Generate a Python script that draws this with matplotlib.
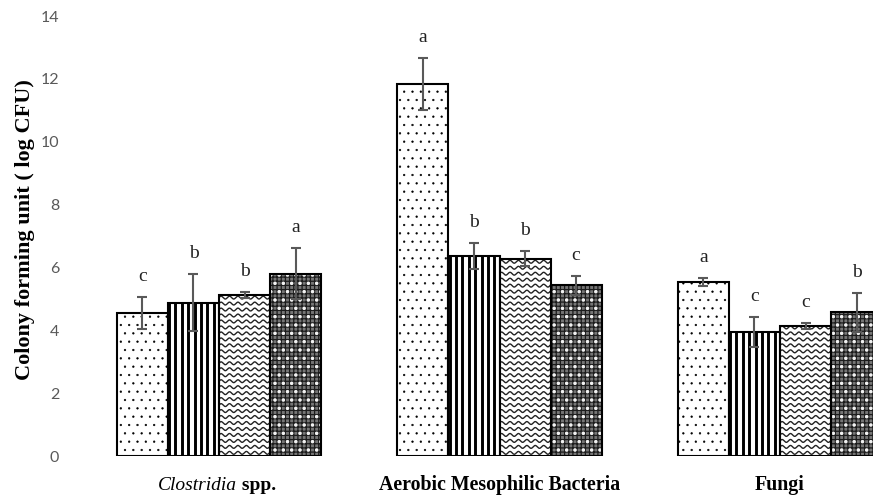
import numpy as np
import matplotlib
matplotlib.use("Agg")
import matplotlib.pyplot as plt

# data
categories = ["Clostridia", "Aerobic Mesophilic Bacteria", "Fungi"]
treat1 = [4.55, 11.83, 5.53]
treat2 = [4.88, 6.36, 3.94]
treat3 = [5.13, 6.27, 4.13]
treat4 = [5.80, 5.43, 4.57]
err1 = [0.50, 0.82, 0.13]
err2 = [0.90, 0.41, 0.47]
err3 = [0.10, 0.24, 0.09]
err4 = [0.82, 0.31, 0.63]
letters1 = ["c", "a", "a"]
letters2 = ["b", "b", "c"]
letters3 = ["b", "b", "c"]
letters4 = ["a", "c", "b"]
yticks = [0, 2, 4, 6, 8, 10, 12, 14]

serif = "Liberation Serif"

fig = plt.figure(figsize=(8.73, 4.99), dpi=100)
# axis runs past the right edge of the figure, as in the original
ax = fig.add_axes([78.75 / 873, 43 / 499, 841.5 / 873, 440 / 499])

x = np.arange(len(categories))
w = 0.182
series = [(treat1, err1, letters1), (treat2, err2, letters2),
          (treat3, err3, letters3), (treat4, err4, letters4)]

for i, (vals, errs, labs) in enumerate(series):
    pos = x + (i - 1.5) * w
    if i == 0:
        with plt.rc_context({"hatch.linewidth": 0.4}):
            bars = ax.bar(pos, vals, w, color="white", edgecolor="black",
                          hatch="..", linewidth=0, zorder=2)
    elif i == 1:
        bars = ax.bar(pos, vals, w, color="white", linewidth=0, zorder=2)
        # thick vertical stripes
        for b in bars:
            xs = b.get_x() + np.arange(0.004, b.get_width(), 0.0228)
            lc = ax.vlines(xs, 0, b.get_height(), color="black", linewidth=2.1,
                           zorder=3)
            lc.set_clip_path(b)
    elif i == 2:
        bars = ax.bar(pos, vals, w, color="white", linewidth=0, zorder=2)
        # wavy lines
        for b in bars:
            xx = np.linspace(b.get_x(), b.get_x() + b.get_width(), 200)
            for yy in np.arange(0.1, b.get_height() + 0.2, 0.19):
                ln, = ax.plot(xx, yy + 0.045 * np.sin(2 * np.pi * (xx - b.get_x()) / 0.03),
                              color="#222222", linewidth=1.0, zorder=3)
                ln.set_clip_path(b)
    else:
        with plt.rc_context({"hatch.linewidth": 0.9}):
            bars = ax.bar(pos, vals, w, color="#767676", edgecolor="#1c1c1c",
                          hatch="++++", linewidth=0, zorder=2)
        with plt.rc_context({"hatch.linewidth": 1.3}):
            ax.bar(pos, vals, w, color="none", edgecolor="#f2f2f2",
                   hatch="..", linewidth=0, zorder=3)
    # outline
    ax.bar(pos, vals, w, color="none", edgecolor="black", linewidth=1.5, zorder=4)
    ax.errorbar(pos, vals, yerr=errs, fmt="none", ecolor="#595959",
                elinewidth=1.5, capsize=3.5, capthick=1.5, zorder=5)
    for p, v, e, lab in zip(pos, vals, errs, labs):
        ax.text(p, v + e + 0.65, lab, ha="center", va="center",
                fontsize=14, family=serif, color="#222222")

ax.set_xlim(-0.5, 2.5)
ax.set_ylim(0, 14)
ax.set_yticks(yticks)
ax.tick_params(axis="y", length=0, pad=14, labelcolor="#595959", labelsize=11.5)
for t in ax.get_yticklabels():
    t.set_family("Lato")
ax.set_xticks([])
for s in ax.spines.values():
    s.set_visible(False)

# category labels
ax.annotate("Clostridia", xy=(x[0], 0), xycoords=("data", "axes fraction"),
            xytext=(13, -21), textcoords="offset points", ha="right", va="center",
            fontsize=14, family=serif, style="italic")
ax.annotate(" spp.", xy=(x[0], 0), xycoords=("data", "axes fraction"),
            xytext=(13, -21), textcoords="offset points", ha="left", va="center",
            fontsize=14, family=serif, weight="bold")
for xi, cat in zip(x[1:], categories[1:]):
    ax.annotate(cat, xy=(xi, 0), xycoords=("data", "axes fraction"),
                xytext=(0, -21), textcoords="offset points", ha="center", va="center",
                fontsize=14.3, family=serif, weight="bold")

fig.text(25 / 873, 1 - 230 / 499, "Colony forming unit ( log CFU)", rotation=90,
         ha="center", va="center", fontsize=16, family=serif, weight="bold")

fig.savefig("out.png", dpi=100)
